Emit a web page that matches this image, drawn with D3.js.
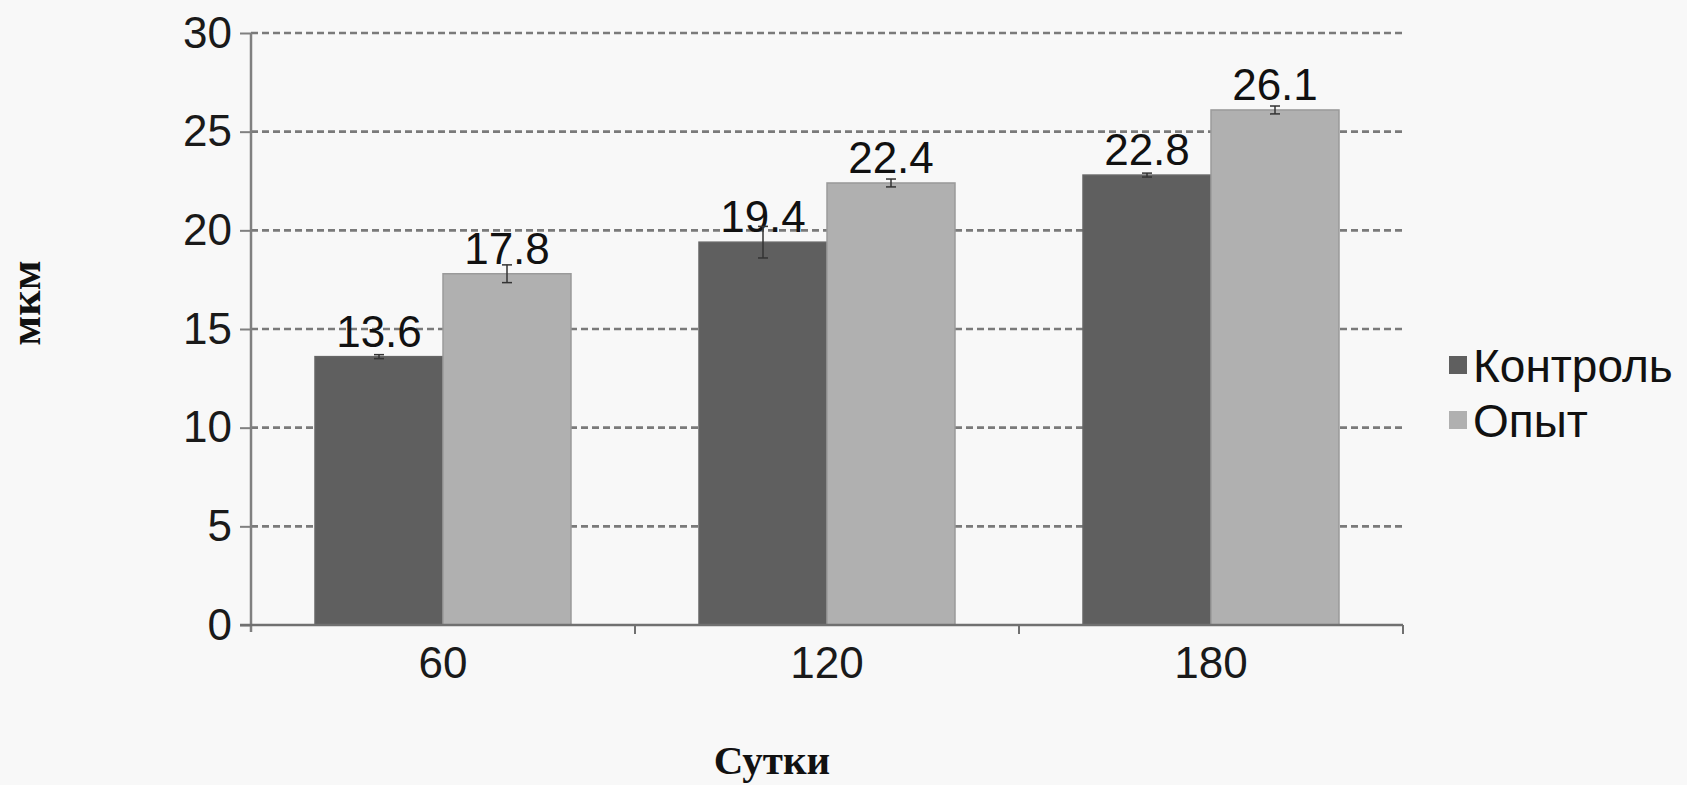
<!DOCTYPE html>
<html><head><meta charset="utf-8">
<script src="https://cdn.jsdelivr.net/npm/d3@7"></script>
<style>html,body{margin:0;padding:0;background:#f8f8f8;}svg{display:block;}</style>
</head><body>
<script>
const categories = ["60", "120", "180"];
const seriesNames = ["Контроль", "Опыт"];
const controlValues = [13.6, 19.4, 22.8];
const opytValues = [17.8, 22.4, 26.1];
const controlErrors = [0.1, 0.8, 0.1];
const opytErrors = [0.45, 0.2, 0.2];
const yTicks = [0, 5, 10, 15, 20, 25, 30];
const colors = ["#5f5f5f", "#b0b0b0"];

(function () {
const W = 1687, H = 785;
const pLeft = 251, pRight = 1403, pTop = 33, pBottom = 625;

const svg = d3.select("body").append("svg").attr("width", W).attr("height", H);
svg.append("rect").attr("width", W).attr("height", H).attr("fill", "#f8f8f8");

const x = d3.scaleBand().domain(categories).range([pLeft, pRight]).paddingInner(0).paddingOuter(0);
const groupW = x.bandwidth() * 2 / 3;
const x1 = d3.scaleBand().domain(seriesNames).range([0, groupW]);
const y = d3.scaleLinear().domain([0, 30]).range([pBottom, pTop]);

// gridlines
svg.append("g").selectAll("line").data(yTicks.filter(t => t > 0)).join("line")
  .attr("x1", pLeft).attr("x2", pRight)
  .attr("y1", d => y(d)).attr("y2", d => y(d))
  .attr("stroke", "#7a7a7a").attr("stroke-width", 2.6).attr("stroke-dasharray", "7,4");

const data = categories.map((c, i) => ({
  cat: c,
  vals: [
    {s: seriesNames[0], v: controlValues[i], e: controlErrors[i], col: colors[0]},
    {s: seriesNames[1], v: opytValues[i], e: opytErrors[i], col: colors[1]}
  ]
}));

const groups = svg.append("g").selectAll("g").data(data).join("g")
  .attr("transform", d => `translate(${x(d.cat) + (x.bandwidth() - groupW) / 2},0)`);

groups.selectAll("rect").data(d => d.vals).join("rect")
  .attr("x", d => x1(d.s)).attr("width", x1.bandwidth())
  .attr("y", d => y(d.v)).attr("height", d => y(0) - y(d.v))
  .attr("fill", d => d.col)
  .attr("stroke", (d, i) => i === 0 ? "#666" : "#9a9a9a").attr("stroke-width", 1.5);

// labels
groups.selectAll("text.val").data(d => d.vals).join("text").attr("class", "val")
  .attr("x", d => x1(d.s) + x1.bandwidth() / 2)
  .attr("y", d => y(d.v) - 10)
  .attr("text-anchor", "middle")
  .attr("font-family", "Liberation Sans, Arial, sans-serif")
  .attr("font-size", 44).attr("fill", "#111")
  .text(d => d.v.toFixed(1));

// error bars
const eb = groups.selectAll("g.err").data(d => d.vals).join("g").attr("class", "err");
eb.append("line")
  .attr("x1", d => x1(d.s) + x1.bandwidth() / 2).attr("x2", d => x1(d.s) + x1.bandwidth() / 2)
  .attr("y1", d => y(d.v + d.e)).attr("y2", d => y(d.v - d.e))
  .attr("stroke", "#333").attr("stroke-width", 1.5);
eb.selectAll("line.cap").data(d => [
  {cx: x1(d.s) + x1.bandwidth() / 2, yy: y(d.v + d.e)},
  {cx: x1(d.s) + x1.bandwidth() / 2, yy: y(d.v - d.e)}]).join("line").attr("class", "cap")
  .attr("x1", d => d.cx - 5).attr("x2", d => d.cx + 5)
  .attr("y1", d => d.yy).attr("y2", d => d.yy)
  .attr("stroke", "#333").attr("stroke-width", 1.5);

// y axis
const yAxis = svg.append("g").attr("transform", `translate(${pLeft},0)`)
  .call(d3.axisLeft(y).tickValues(yTicks).tickSize(11).tickPadding(8).tickFormat(d3.format("d")));
yAxis.select(".domain").attr("stroke", "#808080").attr("stroke-width", 2.5).attr("d", `M0,${pTop}V${pBottom + 7}`);
yAxis.selectAll(".tick line").attr("stroke", "#808080").attr("stroke-width", 2);
yAxis.selectAll(".tick text").attr("font-family", "Liberation Sans, Arial, sans-serif")
  .attr("font-size", 44).attr("fill", "#1a1a1a");

// x axis
const xAxis = svg.append("g").attr("transform", `translate(0,${pBottom})`)
  .call(d3.axisBottom(x).tickSize(0).tickPadding(22));
xAxis.select(".domain").attr("stroke", "#707070").attr("stroke-width", 2.5).attr("d", `M${pLeft - 11},0H${pRight}`);
xAxis.selectAll(".tick text").attr("font-family", "Liberation Sans, Arial, sans-serif")
  .attr("font-size", 44).attr("fill", "#1a1a1a").attr("dy", "0.71em");
// category boundary ticks
svg.append("g").selectAll("line").data(categories.slice(1).map(c => x(c)).concat([pRight])).join("line")
  .attr("x1", d => d).attr("x2", d => d).attr("y1", pBottom).attr("y2", pBottom + 9)
  .attr("stroke", "#707070").attr("stroke-width", 2);

// axis titles
svg.append("text").attr("transform", "translate(40,303) rotate(-90)")
  .attr("text-anchor", "middle")
  .attr("font-family", "Liberation Serif, Times New Roman, serif").attr("font-weight", "bold")
  .attr("font-size", 44).attr("fill", "#111").text("мкм");
svg.append("text").attr("x", 772).attr("y", 774).attr("text-anchor", "middle")
  .attr("font-family", "Liberation Serif, Times New Roman, serif").attr("font-weight", "bold")
  .attr("font-size", 41).attr("fill", "#111").text("Сутки");

// legend
const leg = svg.append("g").selectAll("g").data(seriesNames).join("g")
  .attr("transform", (d, i) => `translate(1449,${382 + i * 55})`);
leg.append("rect").attr("x", 0).attr("y", -26).attr("width", 18).attr("height", 18)
  .attr("fill", (d, i) => colors[i]);
leg.append("text").attr("x", 24).attr("y", 0)
  .attr("font-family", "Liberation Sans, Arial, sans-serif")
  .attr("font-size", 46).attr("fill", "#111").text(d => d);
})();
</script>
</body></html>
